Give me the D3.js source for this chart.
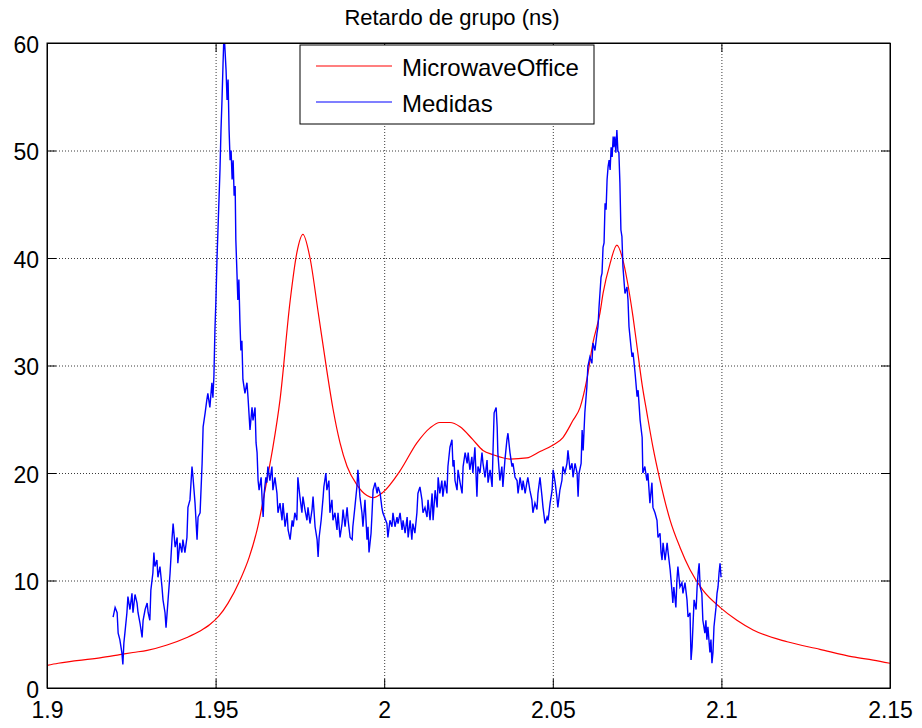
<!DOCTYPE html>
<html>
<head>
<meta charset="utf-8">
<script src="https://cdn.jsdelivr.net/npm/d3@7"></script>
<style>
  body { margin: 0; background: #fff; }
  svg { display: block; font-family: "Liberation Sans", Arial, sans-serif; }
</style>
</head>
<body>
<div id="chart"></div>
<script>
// axis ticks
var xTicks = [1.9, 1.95, 2, 2.05, 2.1, 2.15];
var xTickLabels = ["1.9", "1.95", "2", "2.05", "2.1", "2.15"];
var yTicks = [0, 10, 20, 30, 40, 50, 60];

var titleText = "Retardo de grupo (ns)";
var seriesNames = ["MicrowaveOffice", "Medidas"];

// MicrowaveOffice (simulated) - frequency (GHz) / delay (ns)
var redF = [1.9000, 1.9033, 1.9157, 1.9216, 1.9255, 1.9297, 1.9356, 1.9415, 1.9454, 1.9483,
  1.9510, 1.9537, 1.9572, 1.9600, 1.9623, 1.9652, 1.9670,
  1.9691, 1.9721, 1.9741, 1.9759, 1.9780, 1.9804, 1.9830, 1.9848, 1.9869, 1.9890,
  1.9919, 1.9949, 1.9967, 1.9996, 2.0047, 2.0097, 2.0136, 2.0165, 2.0195, 2.0225,
  2.0263, 2.0293, 2.0323, 2.0373, 2.0423, 2.0462, 2.0501, 2.0530, 2.0560, 2.0581,
  2.0601, 2.0619, 2.0640, 2.0649, 2.0670, 2.0690, 2.0708, 2.0720, 2.0738, 2.0750,
  2.0765, 2.0779, 2.0797, 2.0818, 2.0848, 2.0877, 2.0907, 2.0945, 2.0996, 2.1046,
  2.1094, 2.1195, 2.1292, 2.1390, 2.1450, 2.1500];
var redG = [2.1, 2.3, 2.8, 3.1, 3.3, 3.5, 4.0, 4.7, 5.3, 5.9,
  6.7, 7.9, 10.0, 12.2, 14.7, 19.3, 22.4,
  26.8, 36.0, 40.5, 42.2, 40.0, 35.0, 29.5, 26.0, 22.8, 20.6,
  18.9, 17.9, 17.7, 18.2, 20.2, 22.8, 24.2, 24.7, 24.7, 24.3,
  23.1, 22.1, 21.7, 21.3, 21.4, 22.0, 22.6, 23.3, 24.9, 26.1,
  28.7, 32.1, 34.9, 36.7, 39.5, 41.2, 39.8, 38.0, 34.5, 31.7,
  28.2, 25.6, 22.4, 19.3, 15.6, 13.1, 11.0, 9.1, 7.5, 6.3,
  5.4, 4.3, 3.6, 2.9, 2.6, 2.3];

// Medidas (measured) - frequency (GHz) / delay (ns)
var blueF = [1.9196, 1.9202, 1.9208, 1.9211, 1.9216, 1.9222, 1.9225, 1.9228, 1.9231, 1.9237,
  1.9240, 1.9246, 1.9252, 1.9255, 1.9261, 1.9267, 1.9270, 1.9276, 1.9282, 1.9285,
  1.9291, 1.9297, 1.9300, 1.9305, 1.9308, 1.9314, 1.9317, 1.9320, 1.9326, 1.9329,
  1.9335, 1.9341, 1.9344, 1.9350, 1.9353, 1.9359, 1.9365, 1.9371, 1.9374, 1.9380,
  1.9386, 1.9388, 1.9394, 1.9400, 1.9403, 1.9409, 1.9415, 1.9418, 1.9424, 1.9430,
  1.9433, 1.9439, 1.9445, 1.9448, 1.9454, 1.9460, 1.9463, 1.9469, 1.9474, 1.9477,
  1.9483, 1.9489, 1.9492, 1.9495, 1.9498, 1.9501, 1.9504, 1.9507, 1.9510, 1.9513,
  1.9516, 1.9519, 1.9522, 1.9525, 1.9528, 1.9531, 1.9534, 1.9537, 1.9540, 1.9543,
  1.9546, 1.9549, 1.9552, 1.9555, 1.9558, 1.9560, 1.9563, 1.9566, 1.9569, 1.9572,
  1.9575, 1.9578, 1.9581, 1.9587, 1.9593, 1.9596, 1.9602, 1.9608, 1.9611, 1.9617,
  1.9620, 1.9623, 1.9626, 1.9629, 1.9635, 1.9638, 1.9641, 1.9644, 1.9649, 1.9652,
  1.9655, 1.9661, 1.9667, 1.9670, 1.9676, 1.9682, 1.9685, 1.9691, 1.9697, 1.9700,
  1.9706, 1.9712, 1.9715, 1.9721, 1.9727, 1.9730, 1.9735, 1.9741, 1.9744, 1.9750,
  1.9756, 1.9759, 1.9765, 1.9771, 1.9774, 1.9780, 1.9786, 1.9789, 1.9795, 1.9801,
  1.9804, 1.9807, 1.9813, 1.9819, 1.9821, 1.9827, 1.9830, 1.9836, 1.9839, 1.9845,
  1.9848, 1.9854, 1.9860, 1.9863, 1.9869, 1.9875, 1.9878, 1.9884, 1.9890, 1.9893,
  1.9899, 1.9905, 1.9907, 1.9913, 1.9919, 1.9922, 1.9928, 1.9934, 1.9937, 1.9943,
  1.9949, 1.9952, 1.9955, 1.9961, 1.9964, 1.9967, 1.9973, 1.9979, 1.9982, 1.9988,
  1.9993, 1.9996, 2.0008, 2.0011, 2.0017, 2.0023, 2.0026, 2.0032, 2.0038, 2.0041,
  2.0047, 2.0053, 2.0056, 2.0062, 2.0068, 2.0071, 2.0077, 2.0082, 2.0085, 2.0091,
  2.0097, 2.0100, 2.0106, 2.0112, 2.0115, 2.0121, 2.0127, 2.0130, 2.0136, 2.0142,
  2.0145, 2.0151, 2.0157, 2.0160, 2.0165, 2.0171, 2.0174, 2.0180, 2.0186, 2.0189,
  2.0195, 2.0201, 2.0204, 2.0207, 2.0210, 2.0216, 2.0219, 2.0225, 2.0231, 2.0234,
  2.0240, 2.0246, 2.0249, 2.0254, 2.0260, 2.0263, 2.0269, 2.0275, 2.0278, 2.0284,
  2.0290, 2.0293, 2.0299, 2.0305, 2.0308, 2.0314, 2.0320, 2.0323, 2.0326, 2.0332,
  2.0335, 2.0337, 2.0343, 2.0349, 2.0352, 2.0358, 2.0364, 2.0367, 2.0373, 2.0379,
  2.0382, 2.0388, 2.0394, 2.0397, 2.0403, 2.0409, 2.0412, 2.0418, 2.0423, 2.0426,
  2.0432, 2.0438, 2.0441, 2.0447, 2.0453, 2.0456, 2.0462, 2.0468, 2.0471, 2.0477,
  2.0483, 2.0486, 2.0492, 2.0498, 2.0501, 2.0507, 2.0512, 2.0515, 2.0521, 2.0527,
  2.0530, 2.0536, 2.0542, 2.0545, 2.0551, 2.0557, 2.0560, 2.0566, 2.0572, 2.0575,
  2.0578, 2.0584, 2.0587, 2.0590, 2.0595, 2.0601, 2.0604, 2.0610, 2.0616, 2.0619,
  2.0625, 2.0631, 2.0634, 2.0637, 2.0643, 2.0646, 2.0649, 2.0652, 2.0655, 2.0658,
  2.0661, 2.0664, 2.0667, 2.0670, 2.0673, 2.0676, 2.0679, 2.0681, 2.0684, 2.0687,
  2.0690, 2.0693, 2.0696, 2.0699, 2.0702, 2.0705, 2.0708, 2.0714, 2.0720, 2.0723,
  2.0726, 2.0732, 2.0735, 2.0738, 2.0744, 2.0750, 2.0753, 2.0759, 2.0765, 2.0767,
  2.0773, 2.0779, 2.0782, 2.0788, 2.0794, 2.0797, 2.0803, 2.0809, 2.0812, 2.0818,
  2.0821, 2.0824, 2.0827, 2.0833, 2.0839, 2.0842, 2.0848, 2.0854, 2.0856, 2.0859,
  2.0865, 2.0868, 2.0871, 2.0877, 2.0883, 2.0886, 2.0892, 2.0898, 2.0901, 2.0907,
  2.0910, 2.0913, 2.0919, 2.0925, 2.0928, 2.0931, 2.0934, 2.0937, 2.0942, 2.0945,
  2.0951, 2.0954, 2.0957, 2.0960, 2.0966, 2.0969, 2.0972, 2.0975, 2.0978, 2.0984,
  2.0987, 2.0990, 2.0993, 2.0996, 2.0999];
var blueG = [6.6, 7.5, 7.0, 5.1, 4.5, 3.3, 2.2, 4.2, 5.1, 7.0,
  8.5, 7.3, 8.8, 7.0, 8.7, 7.9, 7.0, 6.0, 4.7, 6.3,
  7.3, 7.9, 7.0, 6.3, 9.1, 10.7, 12.6, 11.3, 11.9, 10.3,
  11.3, 9.4, 8.2, 7.0, 5.6, 8.2, 10.7, 14.0, 15.3, 13.1,
  14.0, 11.6, 13.5, 12.6, 13.8, 12.6, 14.0, 16.8, 17.5, 20.6,
  19.6, 17.2, 13.8, 15.9, 16.3, 20.9, 24.3, 25.6, 26.8, 27.4,
  26.1, 28.4, 27.0, 29.0, 33.3, 36.1, 39.8, 42.6, 45.4, 48.2,
  51.9, 54.7, 58.0, 61.0, 59.3, 57.5, 54.7, 56.6, 51.9, 49.1,
  50.0, 47.3, 49.1, 45.8, 46.7, 41.7, 38.9, 36.1, 38.0, 34.2,
  31.4, 32.3, 28.7, 27.4, 28.4, 27.1, 24.0, 26.1, 24.9, 26.1,
  22.8, 21.9, 19.3, 18.4, 19.6, 17.5, 15.9, 18.1, 19.6, 19.1,
  20.6, 19.3, 20.6, 18.4, 19.6, 18.1, 16.3, 17.2, 15.6, 17.2,
  15.0, 16.3, 14.7, 13.8, 15.6, 15.0, 16.3, 15.6, 19.6, 17.8,
  16.3, 17.8, 16.6, 15.6, 16.8, 15.3, 16.6, 17.8, 15.0, 13.8,
  12.2, 14.0, 15.6, 17.8, 18.7, 20.0, 18.4, 19.3, 16.3, 17.5,
  15.6, 16.3, 14.7, 16.3, 14.0, 15.3, 16.6, 15.0, 16.8, 15.6,
  14.0, 13.8, 15.0, 16.8, 18.7, 20.3, 17.8, 16.3, 15.0, 17.5,
  13.8, 15.0, 12.6, 14.4, 16.3, 18.4, 19.1, 18.1, 18.7, 18.1,
  16.8, 16.3, 15.3, 14.0, 15.6, 15.0, 16.3, 15.0, 15.9, 15.3,
  16.3, 14.7, 15.6, 14.4, 15.9, 14.0, 15.6, 13.8, 15.3, 14.4,
  16.3, 18.1, 18.7, 17.5, 16.3, 16.8, 15.9, 17.5, 15.6, 18.1,
  15.6, 18.4, 16.8, 19.6, 18.1, 19.3, 17.8, 19.3, 18.1, 20.6,
  22.4, 23.1, 20.6, 21.2, 19.3, 18.4, 20.3, 19.1, 18.1, 20.6,
  21.9, 20.9, 21.9, 20.3, 21.5, 20.0, 22.4, 17.8, 20.6, 20.0,
  21.9, 20.9, 19.6, 21.2, 19.1, 20.3, 18.7, 22.4, 25.6, 26.1,
  24.3, 21.9, 19.3, 20.6, 18.7, 21.2, 23.1, 23.7, 21.9, 20.6,
  20.9, 19.6, 19.3, 18.1, 19.6, 18.4, 19.3, 18.1, 19.1, 19.6,
  18.4, 17.5, 16.3, 17.2, 16.6, 18.1, 19.6, 17.8, 16.8, 15.3,
  15.9, 15.6, 17.2, 18.4, 20.3, 19.1, 17.8, 16.8, 18.4, 19.3,
  20.6, 20.0, 20.9, 22.1, 20.3, 20.9, 19.6, 20.9, 20.0, 17.8,
  20.0, 20.9, 24.0, 22.1, 25.6, 28.0, 29.9, 30.8, 30.2, 32.1,
  31.4, 33.0, 33.6, 35.4, 38.2, 38.6, 41.0, 41.4, 45.1, 44.5,
  47.3, 48.5, 49.1, 48.2, 50.3, 49.4, 51.3, 50.3, 51.3, 49.8,
  51.9, 50.0, 49.8, 47.0, 42.6, 42.0, 39.2, 36.7, 37.3, 36.1,
  33.6, 31.7, 30.8, 31.2, 29.3, 27.1, 27.7, 24.9, 23.3, 20.0,
  20.6, 19.3, 20.0, 17.2, 19.1, 16.8, 16.3, 15.6, 14.0, 14.4,
  12.6, 11.9, 13.5, 11.9, 13.5, 12.6, 11.0, 8.8, 7.9, 9.4,
  7.5, 10.0, 11.3, 9.4, 9.8, 8.8, 9.8, 8.2, 6.6, 7.0,
  2.6, 3.8, 8.2, 7.3, 9.4, 10.7, 11.6, 9.4, 8.8, 6.3,
  5.1, 6.3, 4.5, 5.7, 3.3, 4.5, 2.3, 3.3, 5.7, 7.5,
  8.8, 9.4, 10.7, 11.6, 10.3];

var width = 922, height = 728;
var margin = {top: 43, right: 32, bottom: 40, left: 47};
var pw = width - margin.left - margin.right;
var ph = height - margin.top - margin.bottom;
var font = "\"Liberation Sans\", Arial, sans-serif";

var x = d3.scaleLinear().domain([1.9, 2.15]).range([0, pw]);
var y = d3.scaleLinear().domain([0, 60]).range([ph, 0]);

var svg = d3.select("#chart").append("svg")
  .attr("width", width)
  .attr("height", height);

svg.append("text")
  .attr("x", 452)
  .attr("y", 25)
  .attr("text-anchor", "middle")
  .attr("font-size", 22)
  .attr("fill", "#000")
  .text(titleText);

var g = svg.append("g").attr("transform", "translate(" + margin.left + "," + margin.top + ")");

g.append("clipPath").attr("id", "clip")
  .append("rect").attr("width", pw).attr("height", ph);

// dotted grid (interior ticks only)
var gx = g.append("g")
  .attr("transform", "translate(0," + ph + ")")
  .call(d3.axisBottom(x).tickValues(xTicks.slice(1, -1)).tickSize(-ph).tickFormat(""));
var gy = g.append("g")
  .call(d3.axisLeft(y).tickValues(yTicks.slice(1, -1)).tickSize(-pw).tickFormat(""));
[gx, gy].forEach(function(a){
  a.select(".domain").remove();
  a.selectAll("line").attr("stroke", "#3a3a3a").attr("stroke-dasharray", "1,2");
});

// lines
var lineFn = d3.line()
  .x(function(d){ return x(d[0]); })
  .y(function(d){ return y(d[1]); });

var redData = redF.map(function(f, i){ return [f, redG[i]]; });
var blueData = blueF.map(function(f, i){ return [f, blueG[i]]; });

var lines = g.append("g").attr("clip-path", "url(#clip)");
lines.append("path")
  .datum(redData)
  .attr("fill", "none")
  .attr("stroke", "#ff0000")
  .attr("stroke-width", 1.2)
  .attr("d", lineFn.curve(d3.curveMonotoneX));
lines.append("path")
  .datum(blueData)
  .attr("fill", "none")
  .attr("stroke", "#0000ff")
  .attr("stroke-width", 1.4)
  .attr("d", lineFn.curve(d3.curveLinear));

// axes with inward ticks
var xb = g.append("g").attr("transform", "translate(0," + ph + ")")
  .call(d3.axisBottom(x).tickValues(xTicks).tickSize(-9).tickSizeOuter(0)
    .tickFormat(function(d, i){ return xTickLabels[i]; }));
xb.selectAll("text").attr("y", 30).attr("dy", null);

var yl = g.append("g")
  .call(d3.axisLeft(y).tickValues(yTicks).tickSize(-9).tickSizeOuter(0));
yl.selectAll("text").attr("x", -8).attr("y", 9).attr("dy", null);

g.append("g")
  .call(d3.axisTop(x).tickValues(xTicks).tickSize(-9).tickSizeOuter(0).tickFormat(""));
g.append("g").attr("transform", "translate(" + pw + ",0)")
  .call(d3.axisRight(y).tickValues(yTicks).tickSize(-9).tickSizeOuter(0).tickFormat(""));

g.selectAll(".tick text").attr("font-size", 23).attr("font-family", font).attr("fill", "#000");
g.selectAll(".domain").attr("stroke", "#000");

g.append("rect")
  .attr("width", pw).attr("height", ph)
  .attr("fill", "none").attr("stroke", "#000").attr("stroke-width", 1);

// legend
var lg = svg.append("g").attr("transform", "translate(300,45)");
lg.append("rect")
  .attr("width", 294).attr("height", 79)
  .attr("fill", "#fff").attr("stroke", "#000").attr("stroke-width", 1);
var legendColors = ["#ff0000", "#0000ff"];
seriesNames.forEach(function(name, i){
  var yy = 21 + i * 36;
  lg.append("line")
    .attr("x1", 16).attr("x2", 92).attr("y1", yy).attr("y2", yy)
    .attr("stroke", legendColors[i]).attr("stroke-width", 1.2);
  lg.append("text")
    .attr("x", 102).attr("y", yy + 10)
    .attr("font-size", 24)
    .attr("fill", "#000")
    .text(name);
});
</script>
</body>
</html>
